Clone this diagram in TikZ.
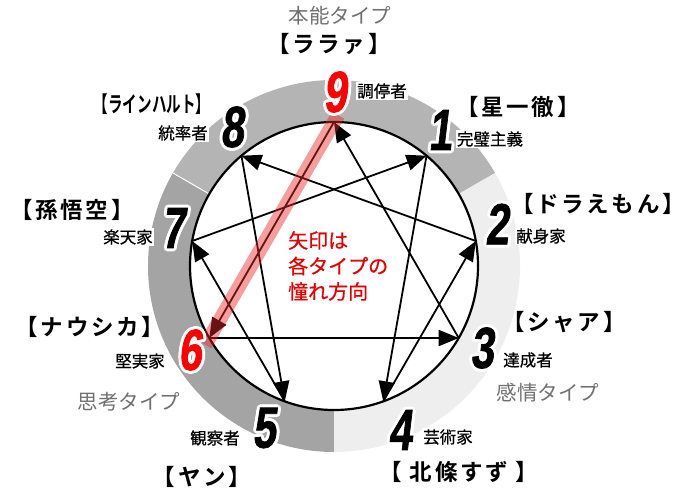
\documentclass[tikz,border=0pt]{standalone}
\usepackage{fontspec}
\setmainfont{Noto Sans CJK JP}
\newfontfamily\jp{Noto Sans CJK JP}
\newfontfamily\jpm[FakeBold=0.6]{Noto Sans CJK JP}
\newfontfamily\jpb[UprightFont=* Bold, LetterSpace=12]{Noto Sans CJK JP}
\newfontfamily\jpcond[UprightFont=* Bold, FakeStretch=0.66]{Noto Sans CJK JP}
\newfontfamily\numfont[UprightFont=* Bold, FakeStretch=0.72, FakeSlant=0.12, FakeBold=1.2]{Liberation Sans}
\usetikzlibrary{arrows.meta,calc}
\definecolor{ringtop}{RGB}{180,180,180}
\definecolor{ringleft}{RGB}{164,164,164}
\definecolor{ringright}{RGB}{238,238,238}
\definecolor{typegray}{RGB}{112,112,112}
\definecolor{hlred}{RGB}{235,40,40}
\definecolor{txtred}{RGB}{230,0,0}
\newcommand\enneanum[4]{%
  \foreach \ang in {0,30,...,330}{\node[numsty,text=white] at ($(#2)+(\ang:3)$) {#4};}
  \node[numsty,text=#3] (#1) at (#2) {#4};}
\tikzset{
  numsty/.style={font=\numfont\fontsize{58}{58}\selectfont, inner sep=0pt},
  rolesty/.style={font=\jpm\fontsize{16.5}{18}\selectfont, fill=white, inner sep=1.2pt},
  namesty/.style={font=\jpb\fontsize{22.5}{24}\selectfont, inner sep=0pt},
  typesty/.style={font=\jp\fontsize{20.5}{24}\selectfont, text=typegray, inner sep=0pt},
  arr/.style={line width=1.8pt, -{Triangle[length=20pt,width=16pt]}},
  band/.style={line width=14pt, draw=hlred, draw opacity=0.45, line cap=butt},
}
\begin{document}
\begin{tikzpicture}[x=1pt,y=-1pt]
\useasboundingbox (0,0) rectangle (686,501);
\coordinate (c) at (334,266);
% ring sectors
\fill[ringtop] (c) -- ++(-150:186) arc[start angle=-150,end angle=-30,radius=186] -- cycle;
\fill[ringleft] (c) -- ++(90:186) arc[start angle=90,end angle=210,radius=186] -- cycle;
\fill[ringright] (c) -- ++(-30:186) arc[start angle=-30,end angle=90,radius=186] -- cycle;
\draw[white, line width=1pt] (c) -- ++(-150:186);
% inner circle
\node[circle, draw=black, fill=white, line width=2.2pt, minimum size=288pt, inner sep=0pt] (circ) at (c) {};
\foreach \k in {1,...,9} \coordinate (p\k) at ($(c)+({40*\k-90}:144)$);
% arrows
\foreach \a/\b in {1/4,4/2,2/8,8/5,5/7,7/1,6/3,3/9,9/6} \draw[arr] (p\a) -- (p\b);
% highlight band
\draw[band] ($(p9)!-8pt!(p6)$) -- ($(p6)!-8pt!(p9)$);
% numbers
\enneanum{n9}{335,92}{red}{9}
\enneanum{n8}{232,127}{black}{8}
\enneanum{n1}{440,130}{black}{1}
\enneanum{n2}{497,224}{black}{2}
\enneanum{n3}{482,348}{black}{3}
\enneanum{n4}{400,430}{black}{4}
\enneanum{n5}{264,428}{black}{5}
\enneanum{n6}{190,350}{red}{6}
\enneanum{n7}{173,228}{black}{7}
% role labels
\node[rolesty] (r9) at (382,91) {調停者};
\node[rolesty] (r8) at (183,133) {統率者};
\node[rolesty] (r1) at (490,139) {完璧主義};
\node[rolesty] (r2) at (541,236) {献身家};
\node[rolesty] (r7) at (128,237) {楽天家};
\node[rolesty] (r6) at (140,361) {堅実家};
\node[rolesty] (r3) at (528,360) {達成者};
\node[rolesty] (r4) at (448,437) {芸術家};
\node[rolesty] (r5) at (215,438) {観察者};
% character names
\node[namesty] (c9) at (329,44) {【ララァ】};
\node[inner sep=0pt, font=\jpcond\fontsize{22}{24}\selectfont] (c8) at (152,104) {【ラインハルト】};
\node[namesty] (c1) at (518,107) {【星一徹】};
\node[namesty] (c2) at (598,204) {【ドラえもん】};
\node[namesty] (c7) at (72,210) {【孫悟空】};
\node[namesty] (c6) at (90,327) {【ナウシカ】};
\node[namesty] (c3) at (564,322) {【シャア】};
\node[namesty] (c4) at (459,472) {【 北條すず 】};
\node[namesty] (c5) at (202,477) {【ヤン】};
% type labels
\node[typesty] (t1) at (340,16) {本能タイプ};
\node[typesty] (t2) at (548,393) {感情タイプ};
\node[typesty] (t3) at (129,402) {思考タイプ};
% center text
\node[font=\jpm\fontsize{20}{25.5}\selectfont, text=txtred, align=left, anchor=north west, inner sep=0pt] (msg) at (288,231) {矢印は\\各タイプの\\憧れ方向};
\end{tikzpicture}
\end{document}
